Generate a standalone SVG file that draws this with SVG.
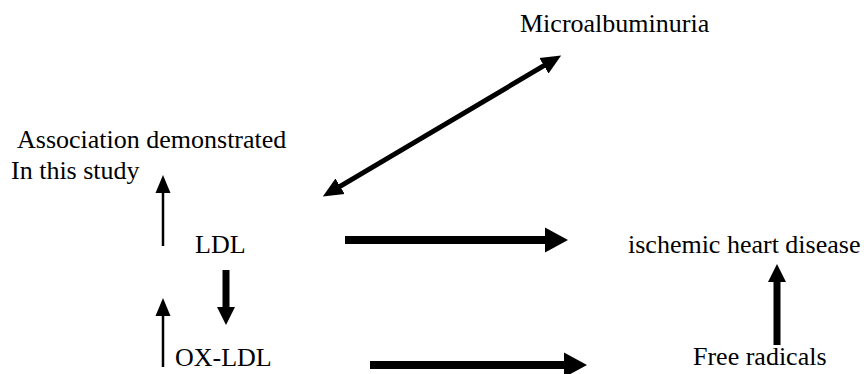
<svg xmlns="http://www.w3.org/2000/svg" width="864" height="374" viewBox="0 0 864 374">
<style>
text{font-family:'Liberation Serif','Times New Roman',serif;font-size:26px;fill:#000}
line{stroke:#000;fill:none}
.thin{stroke-width:2.5}
.diag{stroke-width:5}
.mid{stroke-width:7}
.big{stroke-width:8}
</style>
<defs>
<marker id="hThin" markerUnits="userSpaceOnUse" viewBox="0 -10 20 20" markerWidth="20" markerHeight="20" refX="1" refY="0" orient="auto-start-reverse"><path d="M0,-7.5 L18,0 L0,7.5 z" fill="#000"/></marker>
<marker id="hDiag" markerUnits="userSpaceOnUse" viewBox="0 -10 22 20" markerWidth="22" markerHeight="20" refX="1" refY="0" orient="auto-start-reverse"><path d="M0,-9 L20,0 L0,9 z" fill="#000"/></marker>
<marker id="hMid" markerUnits="userSpaceOnUse" viewBox="0 -10 20 20" markerWidth="20" markerHeight="20" refX="1" refY="0" orient="auto-start-reverse"><path d="M0,-9 L18,0 L0,9 z" fill="#000"/></marker>
<marker id="hBig" markerUnits="userSpaceOnUse" viewBox="0 -13 25 26" markerWidth="25" markerHeight="26" refX="1" refY="0" orient="auto-start-reverse"><path d="M0,-12.5 L23,0 L0,12.5 z" fill="#000"/></marker>
</defs>
<g id="connectors">
<line class="diag" x1="339.2" y1="186.8" x2="544.8" y2="65.2" marker-start="url(#hDiag)" marker-end="url(#hDiag)"/>
<line class="thin" x1="163" y1="246" x2="163" y2="192" marker-end="url(#hThin)"/>
<line class="thin" x1="163" y1="367" x2="163" y2="315" marker-end="url(#hThin)"/>
<line class="mid" x1="226" y1="270" x2="226" y2="308" marker-end="url(#hMid)"/>
<line class="mid" x1="777" y1="345" x2="777" y2="281" marker-end="url(#hMid)"/>
<line class="big" x1="345" y1="240" x2="546" y2="240" marker-end="url(#hBig)"/>
<line class="big" x1="370" y1="365" x2="565" y2="365" marker-end="url(#hBig)"/>
</g>
<g id="microalbuminuria"><text x="520" y="32">Microalbuminuria</text></g>
<g id="association"><text x="17" y="148">Association demonstrated</text><text x="11" y="179">In this study</text></g>
<g id="ldl"><text x="195" y="253">LDL</text></g>
<g id="oxldl"><text x="175" y="366">OX-LDL</text></g>
<g id="ihd"><text x="628" y="253">ischemic heart disease</text></g>
<g id="freeradicals"><text x="693" y="365">Free radicals</text></g>
</svg>
